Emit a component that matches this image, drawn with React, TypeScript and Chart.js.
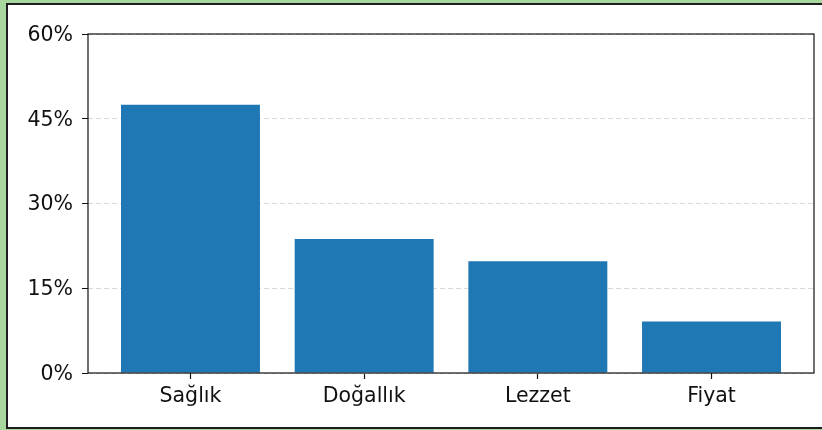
import React, { useEffect, useRef } from "react";
import { Chart, registerables } from "chart.js";

Chart.register(...registerables);

const categories = ["Sağlık", "Doğallık", "Lezzet", "Fiyat"];
const shares = [47.5, 23.7, 19.8, 9.1];
const yTicks = [0, 15, 30, 45, 60];

const framePlugin = {
  id: "frame",
  afterDraw(chart: any) {
    const { ctx, chartArea } = chart;
    ctx.save();
    ctx.strokeStyle = "#111";
    ctx.lineWidth = 1.2;
    ctx.strokeRect(chartArea.left, chartArea.top, chartArea.right - chartArea.left, chartArea.bottom - chartArea.top);
    ctx.restore();
  },
};

export default function App() {
  const ref = useRef<HTMLCanvasElement | null>(null);
  useEffect(() => {
    document.body.style.margin = "0";
    const font = { family: "'DejaVu Sans', sans-serif", size: 20.5 };
    const chart = new Chart(ref.current!, {
      type: "bar",
      data: {
        datasets: [
          {
            data: categories.map((c, i) => ({ x: i, y: shares[i] })),
            backgroundColor: "#1f77b4",
            borderWidth: 0,
            barPercentage: 0.8,
            categoryPercentage: 1,
          },
        ],
      },
      options: {
        animation: false,
        responsive: false,
        maintainAspectRatio: false,
        layout: { padding: { left: 0, right: 8, top: 34, bottom: 0 } },
        plugins: { legend: { display: false }, tooltip: { enabled: false } },
        scales: {
          x: {
            type: "linear",
            min: -0.59,
            max: 3.59,
            offset: false,
            afterBuildTicks: (s: any) => {
              s.ticks = categories.map((_, i) => ({ value: i }));
            },
            afterFit: (s: any) => {
              s.height = 57;
            },
            ticks: {
              font,
              color: "#111",
              padding: 5,
              maxRotation: 0,
              autoSkip: false,
              callback: (v: any) => categories[Math.round(Number(v))] ?? "",
            },
            grid: {
              offset: false,
              drawOnChartArea: false,
              drawTicks: true,
              tickLength: 6,
              tickColor: "#111",
              tickWidth: 1.2,
            },
            border: { display: false },
          },
          y: {
            min: 0,
            max: 60,
            afterBuildTicks: (s: any) => {
              s.ticks = yTicks.map((v) => ({ value: v }));
            },
            afterFit: (s: any) => {
              s.width = 88;
            },
            ticks: {
              font,
              color: "#111",
              padding: 9,
              labelOffset: 1.5,
              callback: (v: any) => `${v}%`,
            },
            grid: {
              color: "#d8d8d8",
              lineWidth: 1,
              drawTicks: true,
              tickLength: 6,
              tickColor: "#111",
              tickWidth: 1.2,
              tickBorderDash: [1, 0],
            },
            border: { display: false, dash: [5, 3] },
          },
        },
      },
      plugins: [framePlugin],
    });
    return () => chart.destroy();
  }, []);
  return (
    <div style={{ position: "fixed", left: 0, top: 0, width: 822, height: 430, background: "#a8d8a0", overflow: "hidden" }}>
      <div
        style={{
          position: "absolute",
          left: 6,
          top: 3,
          width: 840,
          height: 426,
          boxSizing: "border-box",
          border: "2px solid #1e1e1e",
          background: "#fff",
        }}
      />
      <canvas ref={ref} width={822} height={430} style={{ position: "absolute", left: 0, top: 0, width: 822, height: 430 }} />
    </div>
  );
}
